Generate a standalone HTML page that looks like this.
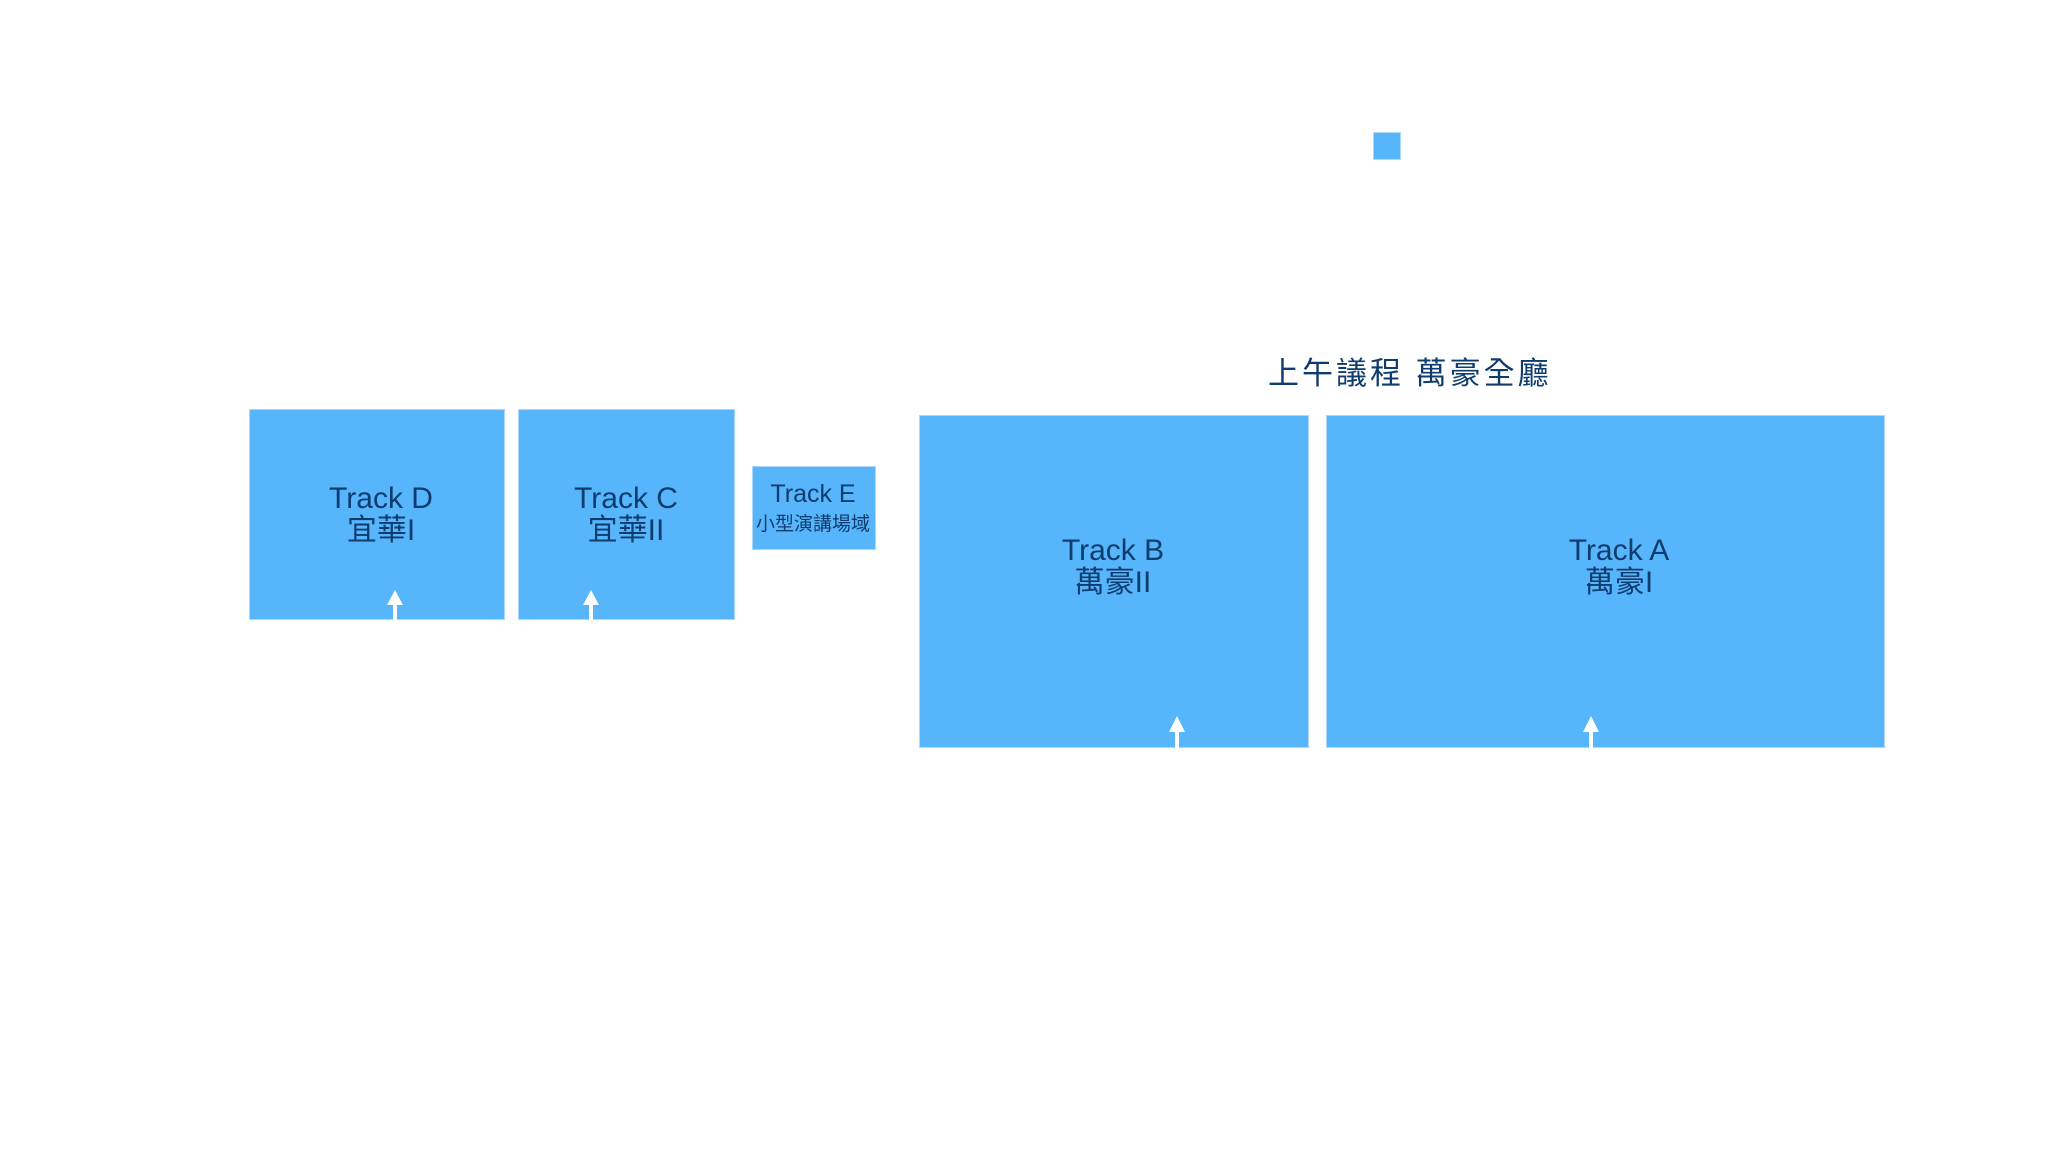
<!DOCTYPE html>
<html><head><meta charset="utf-8"><style>
body{margin:0;width:2052px;height:1162px;background:#fff;position:relative;overflow:hidden;font-family:"Liberation Sans","Noto Sans CJK TC",sans-serif;color:#0e3c6e}
.b{position:absolute;background:#56b5fb;box-shadow:0 0 0 1px #a9d8fb}
.t{position:absolute;text-align:center;line-height:32px;font-size:30px;transform:translateX(-50%);white-space:nowrap}
</style></head><body>
<div class="b" style="left:1374px;top:133px;width:26px;height:26px"></div>
<div style="position:absolute;left:1268px;top:356px;font-size:31px;letter-spacing:3px;white-space:nowrap;line-height:36px">上午議程&nbsp;萬豪全廳</div>
<div class="b" style="left:250px;top:410px;width:254px;height:209px"></div>
<div class="b" style="left:519px;top:410px;width:215px;height:209px"></div>
<div class="b" style="left:753px;top:467px;width:122px;height:82px"></div>
<div class="b" style="left:920px;top:416px;width:388px;height:331px"></div>
<div class="b" style="left:1327px;top:416px;width:557px;height:331px"></div>
<div class="t" style="left:381px;top:483px">Track D<br>宜華I</div>
<div class="t" style="left:626px;top:483px">Track C<br>宜華II</div>
<div class="t" style="left:813px;top:480px;font-size:25px;line-height:28px">Track E<br><span style="font-size:19px">小型演講場域</span></div>
<div class="t" style="left:1113px;top:535px">Track B<br>萬豪II</div>
<div class="t" style="left:1619px;top:535px">Track A<br>萬豪I</div>
<svg width="2052" height="1162" style="position:absolute;left:0;top:0">
<g fill="#fff">
<polygon points="395,590 387,605 403,605"/><rect x="393" y="604" width="4" height="16"/>
<polygon points="591,590 583,605 599,605"/><rect x="589" y="604" width="4" height="16"/>
<polygon points="1177,716 1169,732 1185,732"/><rect x="1175" y="731" width="4" height="17"/>
<polygon points="1591,716 1583,732 1599,732"/><rect x="1589" y="731" width="4" height="17"/>
</g></svg>
</body></html>
